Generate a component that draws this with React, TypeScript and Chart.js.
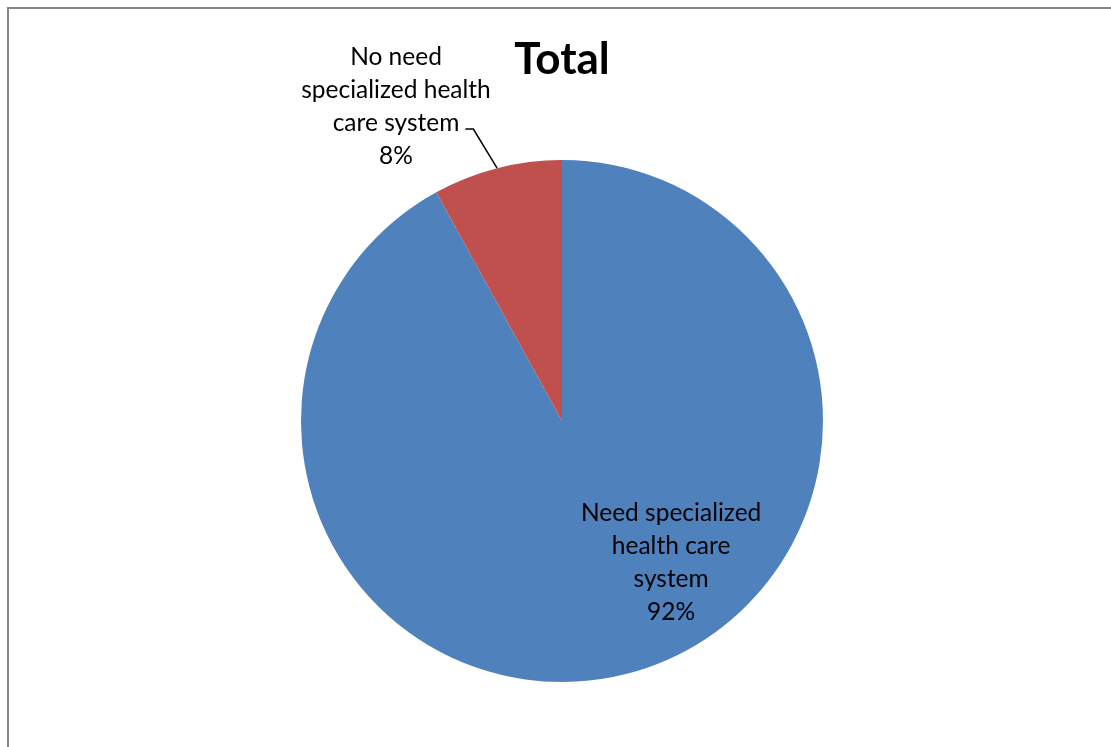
import React, { useEffect, useRef } from "react";
import { Chart, registerables } from "chart.js";

Chart.register(...registerables);

const categories = [
  "Need specialized health care system",
  "No need specialized health care system",
];
const values = [92, 8];
const labelLines = [
  ["Need specialized", "health care", "system"],
  ["No need", "specialized health", "care system"],
];
const colors = ["#4F81BD", "#C0504D"];
const chartTitle = "Total";

const FONT = "Lato, 'Open Sans', sans-serif";

const labelPlugin = {
  id: "pieLabels",
  afterDatasetsDraw(chart: any) {
    const ctx = chart.ctx;
    const meta = chart.getDatasetMeta(0);
    const total = values.reduce((a, b) => a + b, 0);
    const offsets = [
      [0.418, 0.544],
      [-0.636, -1.205],
    ];
    const lineH = 33;
    ctx.save();
    ctx.font = `24.5px ${FONT}`;
    ctx.fillStyle = "#000";
    ctx.textAlign = "center";
    ctx.textBaseline = "middle";
    meta.data.forEach((arc: any, i: number) => {
      const p = arc.getProps(["x", "y", "startAngle", "endAngle", "outerRadius"], true);
      const r = p.outerRadius;
      const cx = p.x + offsets[i][0] * r;
      const cy = p.y + offsets[i][1] * r;
      const lines = [...labelLines[i], Math.round((values[i] / total) * 100) + "%"];
      const top = cy - ((lines.length - 1) * lineH) / 2;
      lines.forEach((t, k) => ctx.fillText(t, cx, top + k * lineH));
      if (i === 1) {
        const w = ctx.measureText(labelLines[i][2]).width;
        const y3 = top + 2 * lineH + 6;
        const x0 = cx + w / 2 + 6;
        const mid = (p.startAngle + p.endAngle) / 2;
        const ex = p.x + Math.cos(mid) * r;
        const ey = p.y + Math.sin(mid) * r;
        ctx.beginPath();
        ctx.strokeStyle = "#000";
        ctx.lineWidth = 1.5;
        ctx.moveTo(x0, y3);
        ctx.lineTo(x0 + 8, y3);
        ctx.lineTo(ex, ey);
        ctx.stroke();
      }
    });
    ctx.restore();
  },
};

export default function App() {
  const ref = useRef<HTMLCanvasElement>(null);
  useEffect(() => {
    if (!ref.current) return;
    const chart = new Chart(ref.current, {
      type: "pie",
      data: {
        labels: categories,
        datasets: [
          {
            data: values,
            backgroundColor: colors,
            borderWidth: 0,
            hoverOffset: 0,
          },
        ],
      },
      options: {
        animation: false,
        responsive: false,
        layout: { padding: { left: 292, right: 288, top: 0, bottom: 65 } },
        plugins: {
          legend: { display: false },
          tooltip: { enabled: false },
          title: {
            display: true,
            text: chartTitle,
            color: "#000",
            font: { family: FONT, size: 44, weight: "bold", lineHeight: 1.2 },
            padding: { top: 24.6, bottom: 73.6 },
          },
        },
      },
      plugins: [labelPlugin],
    });
    return () => chart.destroy();
  }, []);
  return (
    <div
      style={{
        position: "fixed",
        left: 7,
        top: 7,
        width: 1140,
        height: 780,
        borderLeft: "2px solid #868686",
        borderTop: "2px solid #868686",
        boxSizing: "border-box",
        background: "#fff",
      }}
    >
      <canvas
        ref={ref}
        width={1102}
        height={738}
        style={{ position: "absolute", left: 0, top: 0, width: 1102, height: 738 }}
      />
    </div>
  );
}
